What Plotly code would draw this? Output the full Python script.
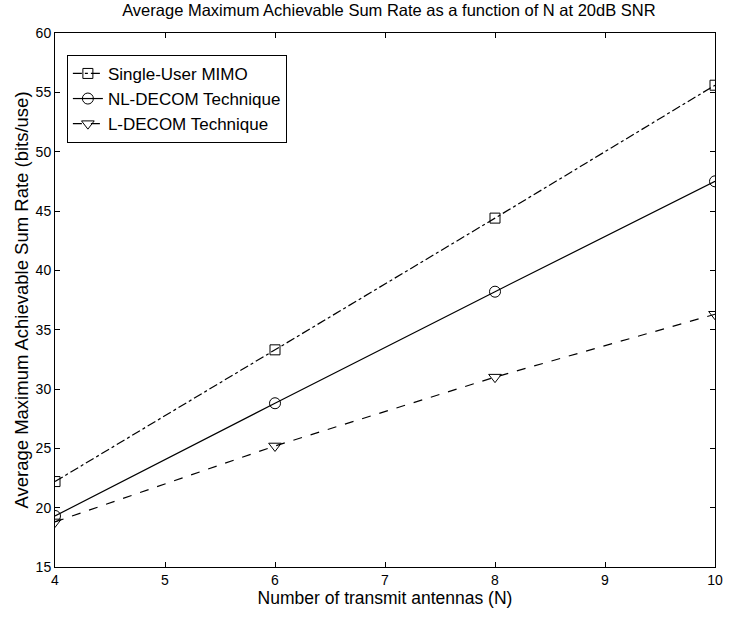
import plotly.graph_objects as go

N = [4, 6, 8, 10]
single_user = [22.2, 33.3, 44.4, 55.6]
nl_decom = [19.3, 28.8, 38.2, 47.5]
l_decom = [18.8, 25.2, 31.0, 36.3]
x_ticks = [4, 5, 6, 7, 8, 9, 10]
y_ticks = [15, 20, 25, 30, 35, 40, 45, 50, 55, 60]

font = "Liberation Sans, Arial, sans-serif"
fig = go.Figure()
fig.add_trace(go.Scatter(x=N, y=single_user, mode="lines+markers", name="Single-User MIMO",
                         line=dict(color="black", width=1.2, dash="dashdot"),
                         marker=dict(symbol="square-open", size=10, color="black", line=dict(width=1))))
fig.add_trace(go.Scatter(x=N, y=nl_decom, mode="lines+markers", name="NL-DECOM Technique",
                         line=dict(color="black", width=1.2),
                         marker=dict(symbol="circle-open", size=11, color="black", line=dict(width=1))))
fig.add_trace(go.Scatter(x=N, y=l_decom, mode="lines+markers", name="L-DECOM Technique",
                         line=dict(color="black", width=1.2, dash="dash"),
                         marker=dict(symbol="triangle-down-open", size=11, color="black", line=dict(width=1))))

axis_common = dict(showline=True, linecolor="black", linewidth=1, mirror="allticks",
                   ticks="inside", ticklen=5, tickcolor="black", showgrid=False, zeroline=False,
                   tickfont=dict(family=font, size=14, color="black"))
fig.update_layout(
    width=731, height=619,
    paper_bgcolor="white", plot_bgcolor="white",
    margin=dict(l=55, r=8, t=33, b=52),
    title=dict(text="Average Maximum Achievable Sum Rate as a function of N at 20dB SNR",
               x=0.532, xanchor="center", y=0.993, yanchor="top",
               font=dict(family=font, size=16.5, color="black")),
    xaxis=dict(range=[4, 10], tickvals=x_ticks,
               title=dict(text="Number of transmit antennas (N)", standoff=4,
                          font=dict(family=font, size=17.5, color="black")), **axis_common),
    yaxis=dict(range=[15, 60], tickvals=y_ticks,
               title=dict(text="Average Maximum Achievable Sum Rate (bits/use)", standoff=2,
                          font=dict(family=font, size=18.5, color="black")), **axis_common),
    legend=dict(x=0.018, y=0.959, xanchor="left", yanchor="top",
                bgcolor="white", bordercolor="black", borderwidth=1,
                font=dict(family=font, size=17, color="black"), tracegroupgap=0,
                itemwidth=30),
    showlegend=True,
)
fig.write_html("out.html")
